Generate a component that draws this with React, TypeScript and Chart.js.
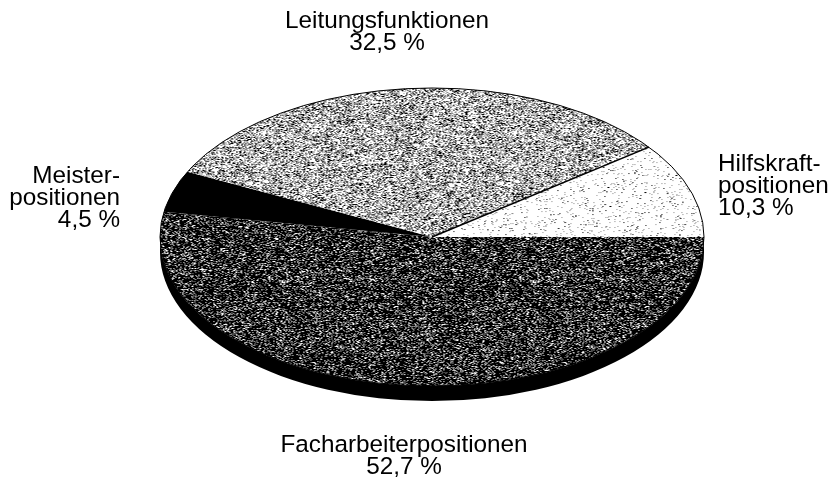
import React, { useEffect, useRef } from "react";
import { Chart, registerables } from "chart.js";

Chart.register(...registerables);

const categories = ["Facharbeiterpositionen", "Meisterpositionen", "Leitungsfunktionen", "Hilfskraftpositionen"];
const shares = [52.7, 4.5, 32.5, 10.3];
const labelBlocks = [
  { lines: ["Leitungsfunktionen", "32,5 %"], x: 387, y: 28, align: "center" },
  { lines: ["Hilfskraft-", "positionen", "10,3 %"], x: 718, y: 171, align: "left" },
  { lines: ["Meister-", "positionen", "4,5 %"], x: 120, y: 183, align: "right" },
  { lines: ["Facharbeiterpositionen", "52,7 %"], x: 404, y: 452, align: "center" },
];

const STRETCH = 272 / 149;
const DEPTH = 15;

function makeNoise(ctx: CanvasRenderingContext2D, dark: number, mid: number, clump: number, base: string) {
  const size = 251;
  const tile = document.createElement("canvas");
  tile.width = size;
  tile.height = size;
  const t = tile.getContext("2d")!;
  t.fillStyle = base;
  t.fillRect(0, 0, size, size);
  let seed = 20240611;
  const next = () => {
    seed = (seed + 0x6d2b79f5) | 0;
    let z = Math.imul(seed ^ (seed >>> 15), 1 | seed);
    z = (z + Math.imul(z ^ (z >>> 7), 61 | z)) ^ z;
    return ((z ^ (z >>> 14)) >>> 0) / 4294967296;
  };
  const cells = 32;
  const grid: number[] = [];
  for (let i = 0; i < cells * cells; i++) grid.push(next());
  for (let y = 0; y < size; y++) {
    for (let x = 0; x < size; x++) {
      const c = grid[(Math.floor(y / 8) % cells) * cells + (Math.floor(x / 8) % cells)];
      const k = 1 + clump * (c - 0.5);
      const v = next();
      if (v < dark * k) t.fillStyle = "#000";
      else if (v < (dark + mid) * k) t.fillStyle = "#8c8c8c";
      else continue;
      t.fillRect(x, y, 1, 1);
    }
  }
  const p = ctx.createPattern(tile, "repeat")!;
  p.setTransform(new DOMMatrix().scale(1 / STRETCH, 1));
  return p;
}

const ellipsePlugin = {
  id: "ellipse",
  beforeDatasetsDraw(chart: any) {
    const ctx = chart.ctx;
    const arcs = chart.getDatasetMeta(0).data;
    const { x, y, outerRadius: r } = arcs[0];
    ctx.save();
    ctx.translate(x, y);
    ctx.scale(STRETCH, 1);
    ctx.translate(-x, -y);
    ctx.fillStyle = "#000";
    ctx.beginPath();
    ctx.arc(x, y + DEPTH, r, 0, Math.PI);
    ctx.lineTo(x - r, y);
    ctx.arc(x, y, r, Math.PI, 0, true);
    ctx.closePath();
    ctx.fill();
  },
  afterDatasetsDraw(chart: any) {
    const ctx = chart.ctx;
    const arcs = chart.getDatasetMeta(0).data;
    const { x, y, outerRadius: r } = arcs[0];
    ctx.restore();
    const line = (a: number) => {
      ctx.beginPath();
      ctx.moveTo(x, y);
      ctx.lineTo(x + Math.cos(a) * r * STRETCH, y + Math.sin(a) * r);
      ctx.stroke();
    };
    ctx.save();
    ctx.strokeStyle = "#000";
    ctx.lineWidth = 1;
    ctx.beginPath();
    ctx.ellipse(x, y, r * STRETCH, r, 0, 0, Math.PI * 2);
    ctx.stroke();
    ctx.lineWidth = 1.5;
    line(arcs[3].startAngle);
    ctx.restore();

    ctx.save();
    ctx.fillStyle = "#000";
    ctx.font = '24.3px "Liberation Sans", Arial, sans-serif';
    ctx.textBaseline = "alphabetic";
    labelBlocks.forEach((b) => {
      ctx.textAlign = b.align;
      b.lines.forEach((l, i) => ctx.fillText(l, b.x, b.y + i * 22));
    });
    ctx.restore();
  },
};

export default function App() {
  const ref = useRef<HTMLCanvasElement>(null);
  useEffect(() => {
    document.body.style.margin = "0";
    const canvas = ref.current!;
    const ctx = canvas.getContext("2d")!;
    const chart = new Chart(canvas, {
      type: "pie",
      data: {
        labels: categories,
        datasets: [
          {
            data: shares,
            backgroundColor: [
              makeNoise(ctx, 0.7, 0.16, 0.12, "#fff"),
              "#000",
              makeNoise(ctx, 0.2, 0.3, 0.2, "#fff"),
              makeNoise(ctx, 0.018, 0.05, 0.5, "#fff"),
            ],
            borderWidth: 0,
            hoverOffset: 0,
          },
        ],
      },
      options: {
        responsive: false,
        animation: false,
        rotation: 90,
        layout: { padding: { left: 30, right: 0, top: 88, bottom: 91 } },
        plugins: { legend: { display: false }, tooltip: { enabled: false } },
        events: [],
      },
      plugins: [ellipsePlugin],
    });
    return () => chart.destroy();
  }, []);
  return <canvas ref={ref} width={834} height={477} style={{ display: "block", background: "#fff" }} />;
}
